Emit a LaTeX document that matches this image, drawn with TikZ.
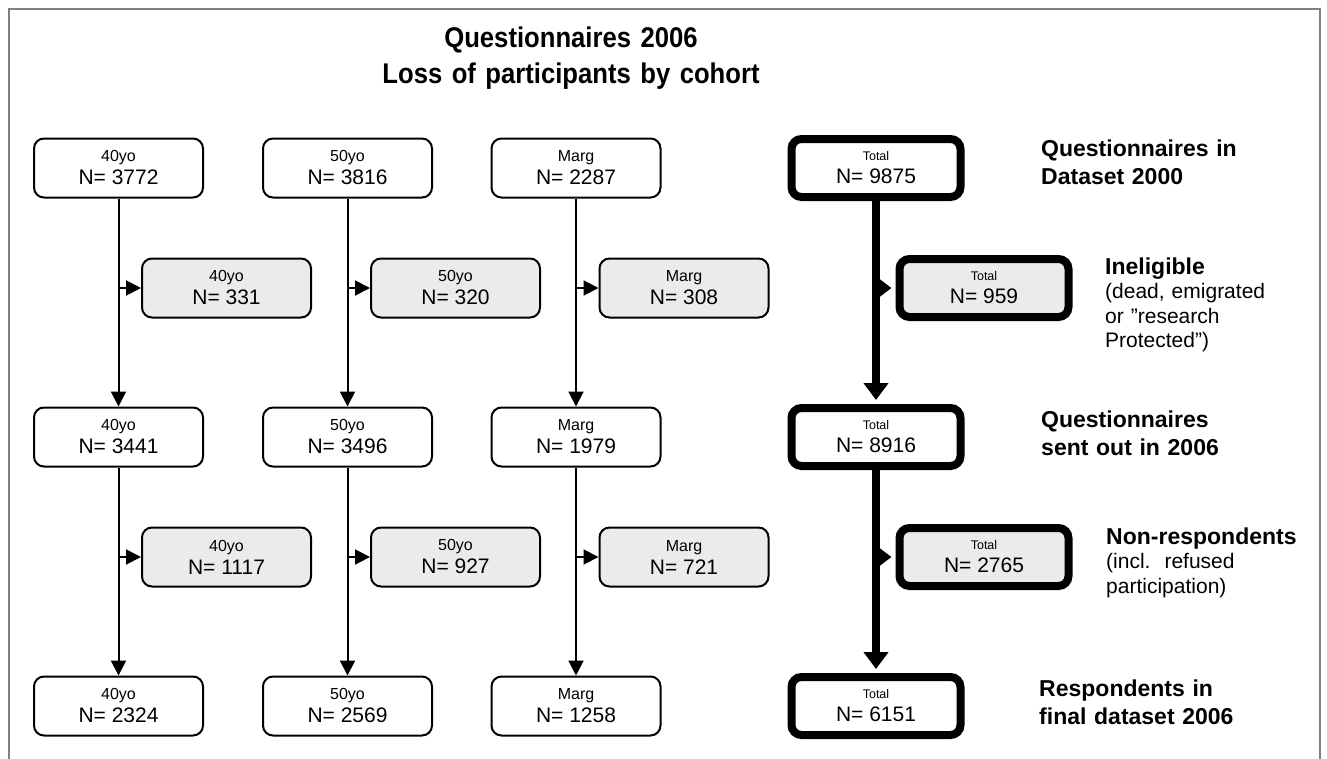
\documentclass[tikz,border=0pt]{standalone}
\usepackage{fontspec}
\setmainfont{Liberation Sans}
\newfontfamily\titlefont{Liberation Sans}[FakeStretch=0.9]
\usetikzlibrary{arrows.meta}
\definecolor{sidefill}{RGB}{235,235,235}
\definecolor{framegray}{RGB}{128,128,128}
\newcommand{\cl}[1]{{\fontsize{16}{16}\selectfont #1}}
\newcommand{\tl}[1]{{\fontsize{12.5}{12.5}\selectfont #1}}
\begin{document}
\begin{tikzpicture}[x=1pt,y=-1pt,
  box/.style={draw=black,line width=2pt,rounded corners=10pt,minimum width=169pt,minimum height=59pt,
    align=center,inner sep=0pt,font=\fontsize{21}{23}\selectfont,fill=white},
  sidebox/.style={box,fill=sidefill},
  tbox/.style={box,line width=8pt,minimum height=58pt},
  tside/.style={tbox,fill=sidefill},
  smallarrow/.style={line width=2pt,-{Triangle[length=15pt,width=15pt]}},
  bigarrow/.style={line width=8pt,-{Triangle[length=17pt,width=24pt]},shorten >=4pt},
  bigside/.style={line width=8pt,-{Triangle[length=16pt,width=23pt]},shorten >=4pt},
  headlbl/.style={anchor=base west,inner sep=0pt,text width=280pt,align=left,font=\fontsize{23}{28.5}\selectfont\bfseries},
  notelbl/.style={anchor=base west,inner sep=0pt,text width=220pt,align=left,font=\fontsize{21}{24.5}\selectfont},
  framestyle/.style={draw=framegray,line width=2.2pt}
]
\useasboundingbox (0,0) rectangle (1327,758);
\fill[white] (0,0) rectangle (1327,758);
\draw[framestyle] (8.7,762) -- (8.7,9) -- (1320,9) -- (1320,762);

\node[anchor=base,inner sep=0pt,text width=700pt,align=center,
      font=\titlefont\bfseries\fontsize{28.5}{36}\selectfont] (title) at (571,47)
  {Questionnaires 2006\\Loss of participants by cohort};

% 40yo column
\node[box] (a1) at (118.5,168) {\cl{40yo}\\N= 3772};
\node[sidebox] (as1) at (226.5,288) {\cl{40yo}\\N= 331};
\node[box] (a2) at (118.5,437) {\cl{40yo}\\N= 3441};
\node[sidebox] (as2) at (226.5,557) {\cl{40yo}\\N= 1117};
\node[box] (a3) at (118.5,706) {\cl{40yo}\\N= 2324};
% 50yo column
\node[box] (b1) at (347.5,168) {\cl{50yo}\\N= 3816};
\node[sidebox] (bs1) at (455.5,288) {\cl{50yo}\\N= 320};
\node[box] (b2) at (347.5,437) {\cl{50yo}\\N= 3496};
\node[sidebox] (bs2) at (455.5,557) {\cl{50yo}\\N= 927};
\node[box] (b3) at (347.5,706) {\cl{50yo}\\N= 2569};
% Marg column
\node[box] (m1) at (576,168) {\cl{Marg}\\N= 2287};
\node[sidebox] (ms1) at (684,288) {\cl{Marg}\\N= 308};
\node[box] (m2) at (576,437) {\cl{Marg}\\N= 1979};
\node[sidebox] (ms2) at (684,557) {\cl{Marg}\\N= 721};
\node[box] (m3) at (576,706) {\cl{Marg}\\N= 1258};
% Total column
\node[tbox] (t1) at (876,168) {\tl{Total}\\N= 9875};
\node[tside] (ts1) at (984,288) {\tl{Total}\\N= 959};
\node[tbox] (t2) at (876,437) {\tl{Total}\\N= 8916};
\node[tside] (ts2) at (984,557) {\tl{Total}\\N= 2765};
\node[tbox] (t3) at (876,706) {\tl{Total}\\N= 6151};

% thin connectors
\foreach \c in {a,b,m}{
  \draw[smallarrow] (\c1) -- (\c2);
  \draw[smallarrow] (\c2) -- (\c3);
  \draw[smallarrow] (\c1.south |- \c s1.west) -- (\c s1.west);
  \draw[smallarrow] (\c2.south |- \c s2.west) -- (\c s2.west);
}
% thick connectors
\draw[bigarrow] (t1) -- (t2);
\draw[bigarrow] (t2) -- (t3);
\draw[bigside] (t1.south |- ts1.west) -- (ts1.west);
\draw[bigside] (t2.south |- ts2.west) -- (ts2.west);

% right labels
\node[headlbl] (l1) at (1041,156) {Questionnaires in\\Dataset 2000};
\node[notelbl] (n1) at (1105,274) {{\fontsize{23}{24.5}\selectfont\bfseries Ineligible}\\(dead, emigrated\\or ”research\\Protected”)};
\node[headlbl] (l2) at (1041,427) {Questionnaires\\sent out in 2006};
\node[notelbl] (n2) at (1106,544) {{\fontsize{23}{24.5}\selectfont\bfseries Non-respondents}\\(incl.\ \ refused\\participation)};
\node[headlbl] (l3) at (1039,696) {Respondents in\\final dataset 2006};
\end{tikzpicture}
\end{document}
